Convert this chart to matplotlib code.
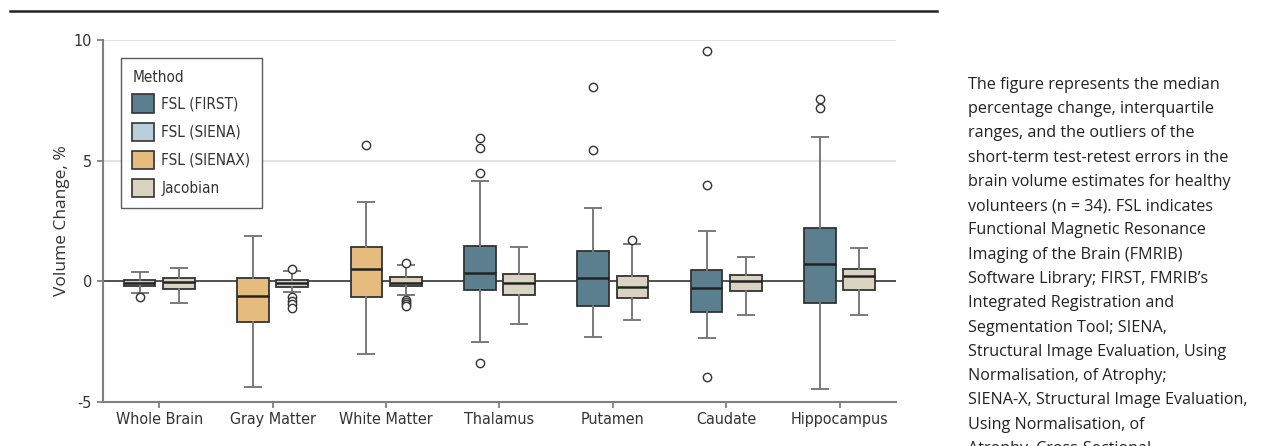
import matplotlib.pyplot as plt
from matplotlib.patches import Patch

# categories and methods
groups = ['Whole Brain', 'Gray Matter', 'White Matter', 'Thalamus',
          'Putamen', 'Caudate', 'Hippocampus']
method_a = ['FSL (SIENA)', 'FSL (SIENAX)', 'FSL (SIENAX)', 'FSL (FIRST)',
            'FSL (FIRST)', 'FSL (FIRST)', 'FSL (FIRST)']

# FSL boxes (% change)
med_a = [-0.08, -0.60, 0.50, 0.36, 0.14, -0.29, 0.70]
q1_a = [-0.21, -1.69, -0.64, -0.36, -1.02, -1.28, -0.91]
q3_a = [0.04, 0.12, 1.44, 1.46, 1.24, 0.47, 2.21]
lo_a = [-0.50, -4.40, -3.01, -2.50, -2.29, -2.33, -4.48]
hi_a = [0.39, 1.86, 3.29, 4.16, 3.05, 2.09, 5.98]
fl_a = [[-0.65], [], [5.64], [5.95, 5.54, 4.50, -3.37], [8.05, 5.44],
        [9.54, 3.98, -3.95], [7.56, 7.17]]

# Jacobian boxes
med_j = [-0.04, -0.07, -0.08, -0.06, -0.23, 0.01, 0.22]
q1_j = [-0.33, -0.25, -0.21, -0.55, -0.69, -0.39, -0.35]
q3_j = [0.12, 0.04, 0.18, 0.29, 0.23, 0.28, 0.50]
lo_j = [-0.91, -0.45, -0.57, -1.77, -1.62, -1.38, -1.38]
hi_j = [0.55, 0.44, 0.66, 1.44, 1.55, 1.02, 1.38]
fl_j = [[], [0.51, -0.67, -0.80, -0.95, -1.11],
        [0.77, -0.77, -0.86, -0.94, -1.02], [], [1.70], [], []]

legend_names = ['FSL (FIRST)', 'FSL (SIENA)', 'FSL (SIENAX)', 'Jacobian']
colors = {'FSL (FIRST)': '#5b7f8e', 'FSL (SIENA)': '#b9cfd9',
          'FSL (SIENAX)': '#e6bc7e', 'Jacobian': '#dbd3c2'}

caption = ("The figure represents the median\n"
           "percentage change, interquartile\n"
           "ranges, and the outliers of the\n"
           "short-term test-retest errors in the\n"
           "brain volume estimates for healthy\n"
           "volunteers (n = 34). FSL indicates\n"
           "Functional Magnetic Resonance\n"
           "Imaging of the Brain (FMRIB)\n"
           "Software Library; FIRST, FMRIB\u2019s\n"
           "Integrated Registration and\n"
           "Segmentation Tool; SIENA,\n"
           "Structural Image Evaluation, Using\n"
           "Normalisation, of Atrophy;\n"
           "SIENA-X, Structural Image Evaluation,\n"
           "Using Normalisation, of\n"
           "Atrophy\u2013Cross-Sectional")

plt.rcParams['font.family'] = ['DejaVu Sans']
plt.rcParams['font.stretch'] = 'condensed'

fig = plt.figure(figsize=(12.61, 4.46), dpi=100)
ax = fig.add_axes([0.0813, 0.0987, 0.6295, 0.8117])


def stats(med, q1, q3, lo, hi, fl):
    return [dict(med=m, q1=a, q3=b, whislo=l, whishi=h, fliers=f)
            for m, a, b, l, h, f in zip(med, q1, q3, lo, hi, fl)]


off = 0.173
w = 0.28
common = dict(widths=w, patch_artist=True, manage_ticks=False,
              whiskerprops=dict(color='#7a7a7a', lw=1.4),
              capprops=dict(color='#7a7a7a', lw=1.4),
              medianprops=dict(color='#222222', lw=1.8),
              flierprops=dict(marker='o', markerfacecolor='white',
                              markeredgecolor='#333333', markersize=6,
                              markeredgewidth=1.0),
              zorder=3)

pos = list(range(len(groups)))
ba = ax.bxp(stats(med_a, q1_a, q3_a, lo_a, hi_a, fl_a),
            positions=[p - off for p in pos], **common)
bj = ax.bxp(stats(med_j, q1_j, q3_j, lo_j, hi_j, fl_j),
            positions=[p + off for p in pos], **common)
for box, m in zip(ba['boxes'], method_a):
    box.set_facecolor(colors[m])
    box.set_edgecolor('#333333')
    box.set_linewidth(1.3)
for box in bj['boxes']:
    box.set_facecolor(colors['Jacobian'])
    box.set_edgecolor('#333333')
    box.set_linewidth(1.3)

ax.axhline(0, color='#333333', lw=1.2, zorder=1)
for yv in [5, 10]:
    ax.axhline(yv, color='#e3e3e3', lw=1.5, zorder=0)

ax.set_xlim(-0.5, 6.5)
ax.set_ylim(-5, 10)
ax.set_yticks([-5, 0, 5, 10])
ax.set_yticklabels(['-5', '0', '5', '10'])
ax.set_xticks(pos)
ax.set_xticklabels(groups)
ax.tick_params(labelsize=11.5, colors='#777777', labelcolor='#333333',
               length=4, width=1.2)
for s in ['top', 'right']:
    ax.spines[s].set_visible(False)
for s in ['left', 'bottom']:
    ax.spines[s].set_color('#808080')
    ax.spines[s].set_linewidth(1.5)
ax.set_ylabel('Volume Change, %', fontsize=12.5, color='#333333',
              family=['Open Sans', 'DejaVu Sans'], fontstretch='normal',
              labelpad=3)

handles = [Patch(facecolor=colors[n], edgecolor='#333333', lw=1.2, label=n)
           for n in legend_names]
leg = ax.legend(handles=handles, title='Method', loc='upper left',
                bbox_to_anchor=(0.023, 0.95), borderaxespad=0,
                fontsize=11, title_fontsize=11, alignment='left',
                fancybox=False, handlelength=1.45, handleheight=1.45,
                labelspacing=0.65, handletextpad=0.45, borderpad=0.75)
leg.get_frame().set_edgecolor('#333333')
leg.get_frame().set_linewidth(1.0)
for t in leg.get_texts():
    t.set_color('#333333')
leg.get_title().set_color('#333333')

fig.add_artist(plt.Line2D([0.008, 0.743], [0.976, 0.976], color='#222222',
                          lw=1.8, transform=fig.transFigure))

fig.text(0.768, 0.828, caption, ha='left', va='top', fontsize=11.6,
         linespacing=1.69, color='#222222', fontstretch='normal',
         family=['Open Sans', 'DejaVu Sans'])

fig.savefig('out.png', dpi=100)
